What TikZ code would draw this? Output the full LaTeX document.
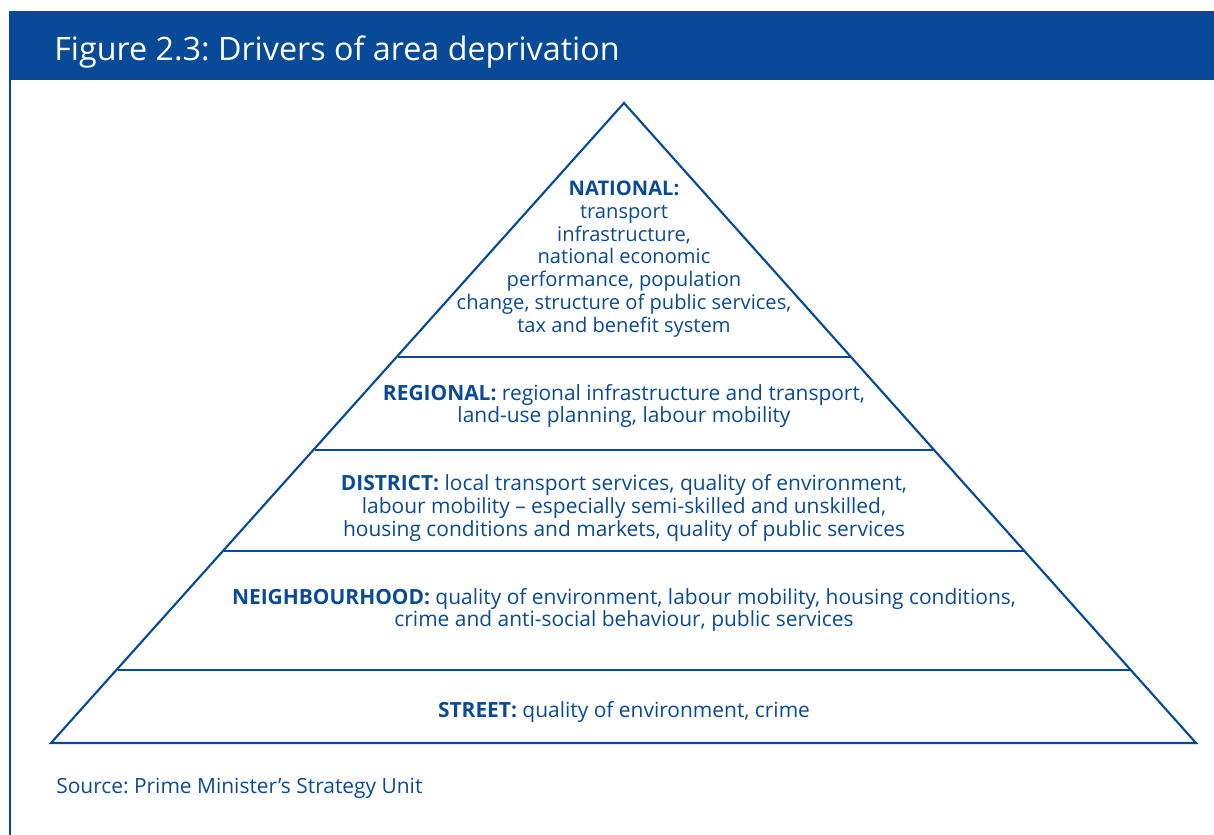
\documentclass[tikz,border=0pt]{standalone}
\usepackage{fontspec}
\setmainfont{Open Sans}
\frenchspacing
\usetikzlibrary{positioning}
\definecolor{deepblue}{RGB}{8,74,151}
\tikzset{
    level text/.style = {text=deepblue, align=center, inner sep=0pt, font=\fontsize{15.7}{17}\selectfont},
    pyramid edge/.style = {draw=deepblue, line width=1.6pt, line join=miter},
}
\newcommand{\tier}[1]{\textbf{#1}}

\begin{document}
\begin{tikzpicture}[x=0.75pt, y=-0.75pt]
            \useasboundingbox (0,0) rectangle (1214,835);
            \fill[deepblue] (10,11) rectangle (1214,80);
            \draw[deepblue, line width=1pt] (10,11) -- (10,835);
            \node[anchor=west, text=white, inner sep=0pt, font=\fontsize{24.2}{28}\selectfont] (title) at (54,52) {Figure 2.3: Drivers of area deprivation};

            \coordinate (apex) at (624,103);
            \coordinate (bl) at (51,743);
            \coordinate (br) at (1196,743);

            \coordinate (n l) at (398,357);
            \coordinate (n r) at (851,357);
            \coordinate (r l) at (315,450);
            \coordinate (r r) at (933,450);
            \coordinate (d l) at (224,551);
            \coordinate (d r) at (1024,551);
            \coordinate (h l) at (118,670);
            \coordinate (h r) at (1130,670);

            \draw[pyramid edge] (bl) -- (apex) -- (br) -- cycle;
            \draw[pyramid edge] (n l) -- (n r);
            \draw[pyramid edge] (r l) -- (r r);
            \draw[pyramid edge] (d l) -- (d r);
            \draw[pyramid edge] (h l) -- (h r);

            \node[level text, font=\fontsize{15.1}{17.1}\selectfont] (national) at (624,259) {\tier{NATIONAL:}\\ transport\\ infrastructure,\\ national economic\\ performance, population\\ change, structure of public services,\\ tax and benefit system};
            \node[level text] (regional) at (624,406) {\tier{REGIONAL:} regional infrastructure and transport,\\ land-use planning, labour mobility};
            \node[level text] (district) at (624,508) {\tier{DISTRICT:} local transport services, quality of environment,\\ labour mobility -- especially semi-skilled and unskilled,\\ housing conditions and markets, quality of public services};
            \node[level text] (neighbourhood) at (624,610) {\tier{NEIGHBOURHOOD:} quality of environment, labour mobility, housing conditions,\\ crime and anti-social behaviour, public services};
            \node[level text] (street) at (624,712) {\tier{STREET:} quality of environment, crime};

            \node[level text, anchor=west] (source) at (56,788) {Source: Prime Minister’s Strategy Unit};
        \end{tikzpicture}
\end{document}
